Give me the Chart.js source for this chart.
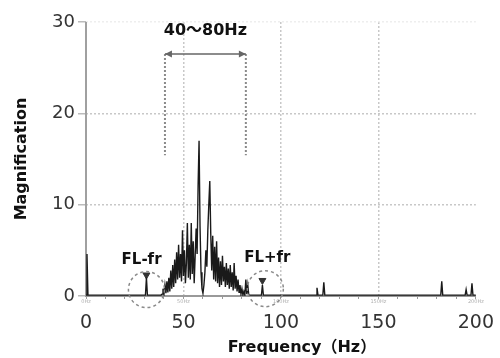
<!DOCTYPE html>
<html>
<head>
<meta charset="utf-8">
<script src="https://cdn.jsdelivr.net/npm/chart.js@4/dist/chart.umd.min.js"></script>
<style>
    body { margin: 0; background: #fff; }
</style>
</head>
<body>
<canvas id="spectrum" width="500" height="358"></canvas>
<script>
// 频谱数据 [频率Hz, 幅值]
const spectrum = [
    [0, 0.1], [0.5, 4.6], [1, 0.1], [30.5, 0.1], [31, 2.0], [31.5, 0.1], [38.5, 0.1],
    [39, 0.2], [39.5, 0.8], [40, 0.2], [40.5, 1.2], [41, 0.3], [41.5, 1.6], [42, 0.4], [42.5, 2.0],
    [43, 0.5], [43.5, 2.8], [44, 0.8], [44.5, 3.4], [45, 1.0], [45.5, 4.0], [46, 1.4], [46.5, 4.8],
    [47, 1.8], [47.5, 5.6], [48, 2.0], [48.5, 4.6], [49, 1.6], [49.5, 7.2], [50, 2.2], [50.5, 5.0],
    [51, 1.4], [51.5, 3.6], [52, 8.0], [52.5, 2.0], [53, 5.6], [53.5, 1.8], [54, 8.0], [54.5, 2.4],
    [55, 6.0], [55.5, 1.4], [56, 4.4], [56.5, 7.4], [57, 4.6], [57.5, 12.0], [58, 17.0], [58.5, 7.6],
    [59, 2.6], [59.5, 0.8], [60, 0.3], [60.5, 1.2], [61, 2.6], [61.5, 5.0], [62, 3.2], [62.5, 7.2],
    [63, 10.0], [63.5, 12.6], [64, 6.8], [64.5, 2.8], [65, 6.6], [65.5, 1.8], [66, 5.4], [66.5, 1.6],
    [67, 6.0], [67.5, 1.4], [68, 4.2], [68.5, 1.0], [69, 3.8], [69.5, 1.2], [70, 4.4], [70.5, 1.6],
    [71, 3.2], [71.5, 1.0], [72, 3.6], [72.5, 1.2], [73, 3.0], [73.5, 0.8], [74, 3.4], [74.5, 1.0],
    [75, 2.6], [75.5, 0.6], [76, 3.6], [76.5, 0.8], [77, 2.2], [77.5, 0.5], [78, 1.8], [78.5, 0.4],
    [79, 1.2], [79.5, 0.2], [80, 0.8], [80.5, 0.1], [81, 0.5], [81.5, 0.1], [82, 1.8], [82.5, 0.2],
    [83, 1.2], [83.5, 0.1],
    [90, 0.1], [90.5, 1.2], [91, 0.1],
    [118, 0.1], [118.5, 0.9], [119, 0.1], [121.5, 0.1], [122, 1.5], [122.5, 0.1],
    [182, 0.1], [182.5, 1.6], [183, 0.1], [194.5, 0.1], [195, 0.7], [195.5, 0.1],
    [197.5, 0.1], [198, 1.4], [198.5, 0.1], [200, 0.1]
];

// 边频标记 FL-fr / FL+fr
const markerFreqs = [31, 90.5];
const markerValues = [2.3, 1.7];
const markerLabels = ['FL-fr', 'FL+fr'];

// 频带
const bandLabel = '40～80Hz';
const bandEdges = [40.5, 82];

const xTicks = [0, 50, 100, 150, 200];
const yTicks = [0, 10, 20, 30];

const FONT = "'DejaVu Sans', 'Noto Sans CJK KR', sans-serif";

// 注释绘制
const annotationPlugin = {
    id: 'annotations',
    beforeDatasetsDraw(chart) {
        // Y轴实线
        const { ctx, chartArea } = chart;
        ctx.save();
        ctx.strokeStyle = '#a0a0a0';
        ctx.lineWidth = 2;
        ctx.beginPath();
        ctx.moveTo(chartArea.left, chartArea.top);
        ctx.lineTo(chartArea.left, chartArea.bottom);
        ctx.stroke();
        ctx.restore();
    },
    afterDatasetsDraw(chart) {
        const ctx = chart.ctx;
        const xs = chart.scales.x;
        const ys = chart.scales.y;
        const px = v => xs.getPixelForValue(v);
        const py = v => ys.getPixelForValue(v);

        ctx.save();

        // 频带虚线
        ctx.strokeStyle = '#8a8a8a';
        ctx.lineWidth = 2;
        ctx.setLineDash([2, 2]);
        bandEdges.forEach(f => {
            ctx.beginPath();
            ctx.moveTo(px(f), py(26.5));
            ctx.lineTo(px(f), py(15.4));
            ctx.stroke();
        });

        // 双向箭头
        ctx.setLineDash([]);
        ctx.strokeStyle = '#666';
        ctx.fillStyle = '#666';
        ctx.lineWidth = 1.5;
        const ay = py(26.5);
        const x1 = px(bandEdges[0]);
        const x2 = px(bandEdges[1]);
        ctx.beginPath();
        ctx.moveTo(x1, ay);
        ctx.lineTo(x2, ay);
        ctx.stroke();
        [[x1, 1], [x2, -1]].forEach(([x, d]) => {
            ctx.beginPath();
            ctx.moveTo(x, ay);
            ctx.lineTo(x + 7 * d, ay - 3.5);
            ctx.lineTo(x + 7 * d, ay + 3.5);
            ctx.closePath();
            ctx.fill();
        });

        // 文字
        ctx.fillStyle = '#111';
        ctx.textAlign = 'center';
        ctx.textBaseline = 'middle';
        ctx.font = 'bold 16px ' + FONT;
        ctx.fillText(bandLabel, (x1 + x2) / 2, py(29));

        // 虚线圆
        ctx.strokeStyle = '#8a8a8a';
        ctx.lineWidth = 1.5;
        ctx.setLineDash([3, 3]);
        [[31, 0.7], [92, 0.8]].forEach(([f, m]) => {
            ctx.beginPath();
            ctx.arc(px(f), py(m), 18, 0, Math.PI * 2);
            ctx.stroke();
        });
        ctx.setLineDash([]);

        ctx.font = 'bold 15px ' + FONT;
        ctx.fillText(markerLabels[0], px(28.5), py(3.9));
        ctx.fillText(markerLabels[1], px(93), py(4.2));

        // X轴标题
        ctx.font = 'bold 16px ' + FONT;
        ctx.fillText('Frequency（Hz）', 302, 348);

        ctx.restore();
    }
};

const spectrumData = spectrum.map(([f, m]) => ({ x: f, y: m }));
const markerData = markerFreqs.map((f, i) => ({ x: f, y: markerValues[i] }));

const dottedGrid = (ctx) => {
    const v = ctx.tick ? ctx.tick.value : null;
    if (v === 0 || v === 200) return 'rgba(0,0,0,0)';
    return v === 30 ? '#eeeeee' : '#c8c8c8';
};

new Chart(document.getElementById('spectrum'), {
    type: 'line',
    data: {
        datasets: [{
            label: 'spectrum',
            data: spectrumData,
            borderColor: '#1a1a1a',
            borderWidth: 1.4,
            pointRadius: 0,
            tension: 0
        }, {
            label: 'markers',
            type: 'scatter',
            data: markerData,
            pointStyle: 'triangle',
            rotation: 180,
            pointRadius: 4,
            backgroundColor: '#333',
            borderColor: '#333'
        }]
    },
    options: {
        responsive: false,
        animation: false,
        layout: {
            padding: { top: 22, right: 16, left: 0, bottom: 0 }
        },
        plugins: {
            legend: { display: false },
            tooltip: { enabled: false }
        },
        scales: {
            x2: {
                type: 'linear',
                position: 'bottom',
                weight: 0,
                min: 0,
                max: 200,
                ticks: {
                    stepSize: 10,
                    autoSkip: false,
                    maxRotation: 0,
                    padding: 0,
                    color: '#b0b0b0',
                    font: { size: 5, family: FONT },
                    callback: v => (v % 50 === 0 ? v + 'Hz' : '')
                },
                grid: {
                    drawOnChartArea: false,
                    tickLength: 3,
                    color: '#999'
                },
                border: { display: true, color: '#999', width: 2 },
                afterFit: scale => { scale.height = 10; }
            },
            x: {
                type: 'linear',
                position: 'bottom',
                weight: 1,
                min: 0,
                max: 200,
                afterBuildTicks: scale => {
                    scale.ticks = xTicks.map(v => ({ value: v }));
                },
                ticks: {
                    padding: 6,
                    maxRotation: 0,
                    color: '#333',
                    font: { size: 19, family: FONT }
                },
                grid: {
                    drawTicks: false,
                    color: dottedGrid,
                    lineWidth: 1.5
                },
                border: { display: false, dash: [2, 2] },
                afterFit: scale => { scale.height = 52; }
            },
            y: {
                min: 0,
                max: 30,
                afterBuildTicks: scale => {
                    scale.ticks = yTicks.map(v => ({ value: v }));
                },
                ticks: {
                    padding: 3,
                    color: '#333',
                    font: { size: 18, family: FONT }
                },
                grid: {
                    tickLength: 8,
                    lineWidth: 1.5,
                    color: dottedGrid,
                    tickColor: '#bbb'
                },
                border: { display: false, dash: [2, 2] },
                title: {
                    display: true,
                    text: 'Magnification',
                    color: '#111',
                    padding: { top: 12, bottom: 0 },
                    font: { size: 16, weight: 'bold', family: FONT }
                },
                afterFit: scale => { scale.width = 86; }
            }
        }
    },
    plugins: [annotationPlugin]
});
</script>
</body>
</html>
